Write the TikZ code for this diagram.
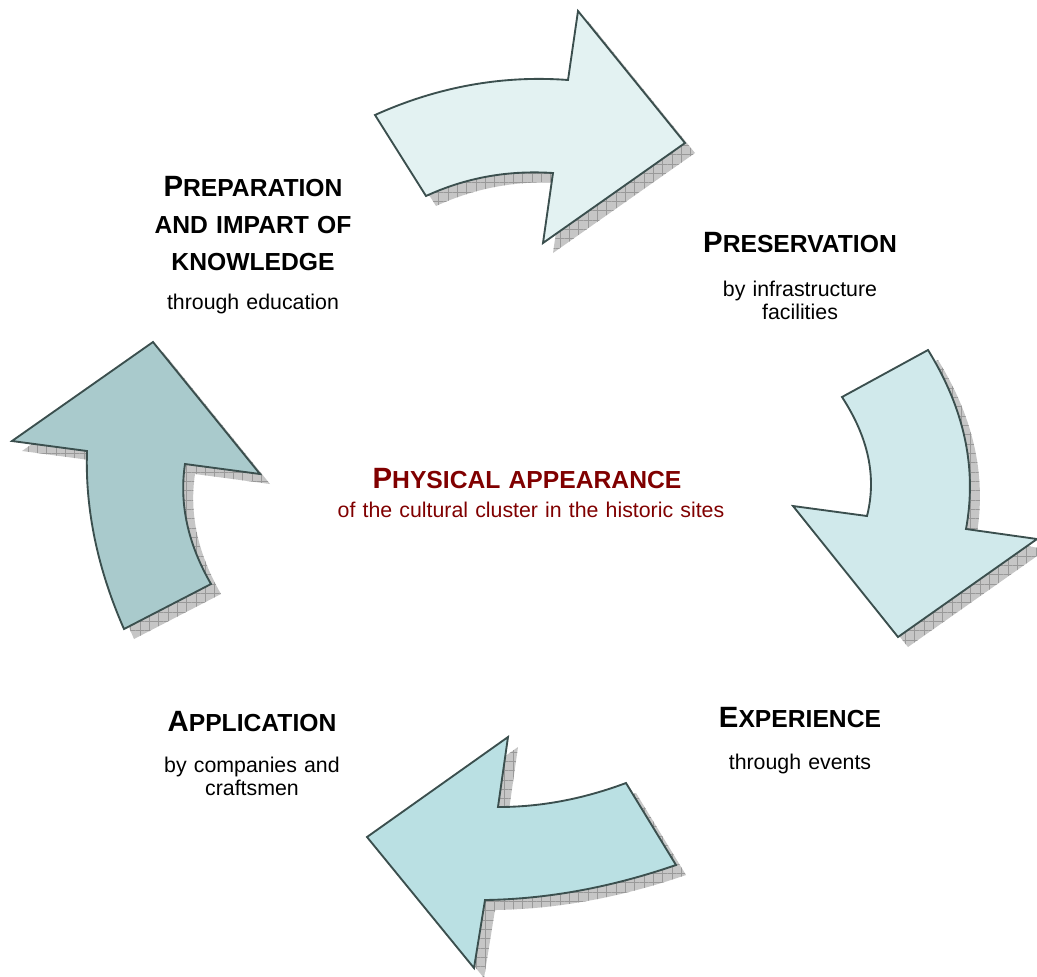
\documentclass[tikz,border=0pt]{standalone}
\usepackage{fontspec}
\setmainfont{Liberation Sans}
\usetikzlibrary{patterns.meta}

\definecolor{arrowline}{HTML}{3B4F4E}
\definecolor{fillA}{HTML}{E3F2F2}
\definecolor{fillB}{HTML}{D0E9EB}
\definecolor{fillC}{HTML}{BAE0E3}
\definecolor{fillD}{HTML}{A9CACC}
\definecolor{shadowgray}{HTML}{C6C6C6}
\definecolor{titlered}{HTML}{800000}

\newcommand{\initial}[2]{{\fontsize{22}{27.75}\selectfont #1}#2}

\newcommand{\arrowtop}{(375,115) -- (426,196) .. controls (465,178) and (507,170) .. (553,173)
  -- (543,243) -- (685,143) -- (578,11) -- (568,80) .. controls (502,75) and (437,87) .. cycle}
\newcommand{\arrowright}{(842,397) -- (928,350) .. controls (965,410) and (977,469) .. (966,529)
  -- (1037,539) -- (898,637) -- (793,506) -- (867,516) .. controls (877,476) and (868,437) .. cycle}
\newcommand{\arrowbottom}{(626,783) -- (676,865) .. controls (612,887) and (549,899) .. (485,900)
  -- (474,968) -- (367,837) -- (508,737) -- (498,807) .. controls (541,807) and (583,799) .. cycle}
\newcommand{\arrowleft}{(124,629) -- (211,584) .. controls (188,544) and (179,504) .. (185,464)
  -- (260,474) -- (153,342) -- (12,441) -- (87,451) .. controls (85,510) and (98,570) .. cycle}

\tikzset{
  arrowbody/.style={draw=arrowline, line width=1.4pt},
  arrowshadow/.style={shift={(10,10)}, preaction={fill=shadowgray},
    pattern={Hatch[distance=7pt, line width=0.4pt]}, pattern color=black!40},
  head/.style={font=\bfseries\fontsize{18.5}{27.75}\selectfont, anchor=base,
    text width=220pt, align=center, inner sep=0pt},
  sub/.style={font=\fontsize{16}{17.5}\selectfont, anchor=base,
    text width=220pt, align=center, inner sep=0pt},
}

\begin{document}
\begin{tikzpicture}[x=0.75pt,y=-0.75pt]
    \clip (0,0) rectangle (1037,976);
    %
    \path[arrowshadow] \arrowtop;    \path[arrowbody, fill=fillA] \arrowtop;
    \path[arrowshadow] \arrowright;  \path[arrowbody, fill=fillB] \arrowright;
    \path[arrowshadow] \arrowbottom; \path[arrowbody, fill=fillC] \arrowbottom;
    \path[arrowshadow] \arrowleft;   \path[arrowbody, fill=fillD] \arrowleft;
    %
    \node[head] (prep) at (253,196) {\initial{P}{REPARATION}\\AND IMPART OF\\KNOWLEDGE};
    \node[sub] (prepsub) at (253,309) {through education};
    %
    \node[head] (pres) at (800,252) {\initial{P}{RESERVATION}};
    \node[sub] (pressub) at (800,296) {by infrastructure\\facilities};
    %
    \node[head] (exp) at (800,727) {\initial{E}{XPERIENCE}};
    \node[sub] (expsub) at (800,769) {through events};
    %
    \node[head] (appl) at (252,731) {\initial{A}{PPLICATION}};
    \node[sub] (applsub) at (252,772) {by companies and\\craftsmen};
    %
    \node[head, text=titlered, text width=300pt] (phys) at (527,488) {\initial{P}{HYSICAL APPEARANCE}};
    \node[sub, text=titlered, text width=300pt] (physsub) at (531,517) {of the cultural cluster in the historic sites};
\end{tikzpicture}
\end{document}
